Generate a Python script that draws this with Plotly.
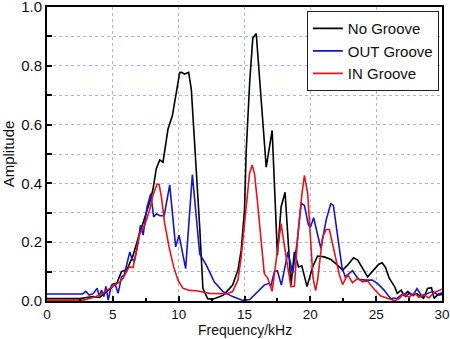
import plotly.graph_objects as go

# No Groove (black)
no_f = [0.0, 2.5, 3.0, 3.5, 4.0, 4.5, 5.0, 5.3, 5.66, 6.0, 6.16, 6.5, 6.9, 7.3, 7.8, 8.05, 8.3, 8.56, 8.81,
        9.19, 9.52, 10.08, 10.2, 10.45, 10.76, 10.96, 11.34, 11.6, 11.84, 12.2, 12.6, 13.1, 13.4, 14.1, 14.5,
        14.75, 15.0, 15.13, 15.4, 15.63, 15.89, 16.65, 17.1, 17.5, 17.78, 18.08, 18.53, 18.79, 19.1, 19.35,
        19.75, 20.18, 20.55, 21.06, 21.57, 22.07, 22.45, 22.83, 23.28, 23.6, 24.1, 24.35, 24.8, 25.2, 25.45,
        25.7, 26.0, 26.4, 26.6, 26.9, 27.1, 27.4, 27.75, 28.1, 28.6, 28.9, 29.2, 29.4, 29.65, 30.0]
no_a = [0.008, 0.008, 0.012, 0.015, 0.012, 0.03, 0.05, 0.06, 0.10, 0.105, 0.116, 0.15, 0.21, 0.263, 0.337,
        0.38, 0.45, 0.48, 0.472, 0.585, 0.63, 0.777, 0.778, 0.772, 0.778, 0.72, 0.455, 0.25, 0.043, 0.008,
        0.006, 0.015, 0.02, 0.054, 0.105, 0.173, 0.31, 0.51, 0.75, 0.894, 0.91, 0.455, 0.58, 0.156, 0.32,
        0.37, 0.054, 0.167, 0.116, 0.12, 0.049, 0.116, 0.153, 0.15, 0.141, 0.122, 0.105, 0.122, 0.147,
        0.139, 0.1, 0.082, 0.105, 0.125, 0.13, 0.115, 0.077, 0.049, 0.026, 0.037, 0.02, 0.032, 0.02, 0.024,
        0.009, 0.043, 0.045, 0.009, 0.02, 0.022]

# OUT Groove (blue)
out_f = [0.0, 2.7, 2.95, 3.2, 3.5, 3.81, 3.96, 4.14, 4.32, 4.47, 4.65, 4.9, 5.15, 5.4, 5.66, 5.86, 6.03,
         6.29, 6.41, 6.62, 6.85, 7.1, 7.3, 7.6, 7.88, 8.1, 8.31, 8.56, 8.9, 9.32, 9.77, 10.03, 10.53, 11.04,
         11.6, 12.1, 12.7, 13.36, 14.1, 14.87, 15.4, 16.0, 16.5, 16.85, 17.0, 17.27, 17.5, 17.8, 18.0, 18.3,
         18.66, 19.0, 19.3, 19.55, 19.85, 20.0, 20.25, 20.8, 21.2, 21.55, 21.75, 22.1, 22.4, 22.65, 23.2,
         23.65, 24.2, 24.7, 25.1, 25.6, 26.1, 26.6, 27.0, 27.25, 27.5, 27.8, 28.1, 28.5, 28.9, 29.3, 29.65, 30.0]
out_a = [0.024, 0.024, 0.033, 0.02, 0.025, 0.043, 0.017, 0.037, 0.015, 0.05, 0.003, 0.054, 0.06, 0.026,
         0.082, 0.088, 0.119, 0.167, 0.15, 0.133, 0.18, 0.258, 0.224, 0.32, 0.365, 0.286, 0.297, 0.29, 0.29,
         0.395, 0.184, 0.224, 0.11, 0.43, 0.16, 0.122, 0.065, 0.032, 0.015, 0.002, 0.005, 0.03, 0.054, 0.06,
         0.05, 0.1, 0.103, 0.054, 0.105, 0.167, 0.094, 0.2, 0.333, 0.325, 0.26, 0.25, 0.283, 0.179, 0.275,
         0.331, 0.325, 0.215, 0.116, 0.082, 0.103, 0.074, 0.071, 0.071, 0.06, 0.037, 0.008, 0.01, 0.024,
         0.015, 0.026, 0.018, 0.042, 0.015, 0.026, 0.032, 0.022, 0.028]

# IN Groove (red)
in_f = [0.0, 2.75, 3.5, 4.0, 4.77, 5.53, 5.78, 6.24, 6.54, 6.79, 7.05, 7.42, 7.8, 8.05, 8.36, 8.51, 8.69,
        8.94, 9.27, 9.62, 9.95, 10.33, 10.83, 11.34, 11.84, 12.35, 13.2, 13.6, 14.1, 14.5, 14.75, 15.13,
        15.38, 15.58, 15.76, 16.0, 16.26, 16.5, 16.77, 17.1, 17.5, 17.78, 18.16, 18.53, 18.79, 19.04, 19.35,
        19.55, 19.8, 20.0, 20.2, 20.4, 20.55, 20.93, 21.2, 21.45, 21.8, 22.2, 22.45, 22.83, 23.2, 23.6,
        23.96, 24.35, 24.85, 25.35, 25.86, 26.4, 26.75, 27.1, 27.5, 27.9, 28.26, 28.6, 29.0, 29.4, 30.0]
in_a = [0.003, 0.003, 0.012, 0.02, 0.043, 0.065, 0.077, 0.116, 0.114, 0.173, 0.23, 0.258, 0.31, 0.36,
        0.397, 0.397, 0.354, 0.263, 0.184, 0.116, 0.071, 0.043, 0.036, 0.035, 0.03, 0.026, 0.025, 0.024,
        0.032, 0.071, 0.15, 0.33, 0.433, 0.463, 0.433, 0.33, 0.196, 0.094, 0.077, 0.033, 0.17, 0.263, 0.15,
        0.049, 0.05, 0.218, 0.36, 0.427, 0.365, 0.24, 0.08, 0.035, 0.07, 0.218, 0.243, 0.243, 0.173, 0.09,
        0.056, 0.09, 0.062, 0.077, 0.065, 0.068, 0.04, 0.017, 0.009, 0.001, 0.008, 0.026, 0.012, 0.028,
        0.012, 0.022, 0.01, 0.028, 0.04]

names = ["No Groove", "OUT Groove", "IN Groove"]
colors = ["#000000", "#1414d2", "#e4141c"]
x_title = "Frequency/kHz"
y_title = "Amplitude"

FONT = "Liberation Sans, Arial, sans-serif"
GRID = "#b0b0e8"

fig = go.Figure()
for fx, ay, nm, col in [(no_f, no_a, names[0], colors[0]),
                        (out_f, out_a, names[1], colors[1]),
                        (in_f, in_a, names[2], colors[2])]:
    fig.add_trace(go.Scatter(x=fx, y=ay, name=nm, mode="lines",
                             line=dict(color=col, width=1.6)))

fig.update_layout(
    width=450, height=339,
    margin=dict(l=47, r=8, t=7, b=38, autoexpand=False),
    paper_bgcolor="white", plot_bgcolor="white",
    font=dict(family=FONT, size=15, color="#111111"),
    showlegend=True,
    legend=dict(x=0.992, y=0.986, xanchor="right", yanchor="top",
                bgcolor="white", bordercolor="#222222", borderwidth=1,
                font=dict(size=15), tracegroupgap=0, itemwidth=30),
)
# x-axis title placed just above the bottom edge, as in the reference
fig.add_annotation(text=x_title, xref="paper", yref="paper", x=0.5, y=0,
                   xanchor="center", yanchor="bottom", yshift=-39,
                   showarrow=False, font=dict(size=14, family=FONT, color="#111111"))
fig.update_xaxes(
    range=[0, 30], dtick=5, tick0=0, automargin=True,
    showline=True, linecolor="black", linewidth=2, mirror=True,
    ticks="inside", ticklen=5, tickwidth=1.5, tickcolor="black",
    showgrid=True, gridcolor=GRID, gridwidth=1, griddash="dot",
    zeroline=False,
    minor=dict(dtick=2.5, ticks="inside", ticklen=3, tickcolor="black", showgrid=False),
    tickfont=dict(size=13.5),
    ticklabeloverflow="allow",
    ticklabelstandoff=0,
)
fig.update_yaxes(
    range=[0, 1.0], dtick=0.2, tick0=0, tickformat=".1f", automargin=True,
    showline=True, linecolor="black", linewidth=2, mirror=True,
    ticks="inside", ticklen=5, tickwidth=1.5, tickcolor="black",
    showgrid=True, gridcolor=GRID, gridwidth=1, griddash="dot",
    zeroline=False,
    minor=dict(dtick=0.1, ticks="inside", ticklen=5, tickcolor="black",
               showgrid=True, gridcolor=GRID, griddash="dot"),
    tickfont=dict(size=15),
    ticklabeloverflow="allow",
    ticklabelstandoff=0,
    title=dict(text=y_title, standoff=4, font=dict(size=15)),
)

fig.write_html("out.html")
